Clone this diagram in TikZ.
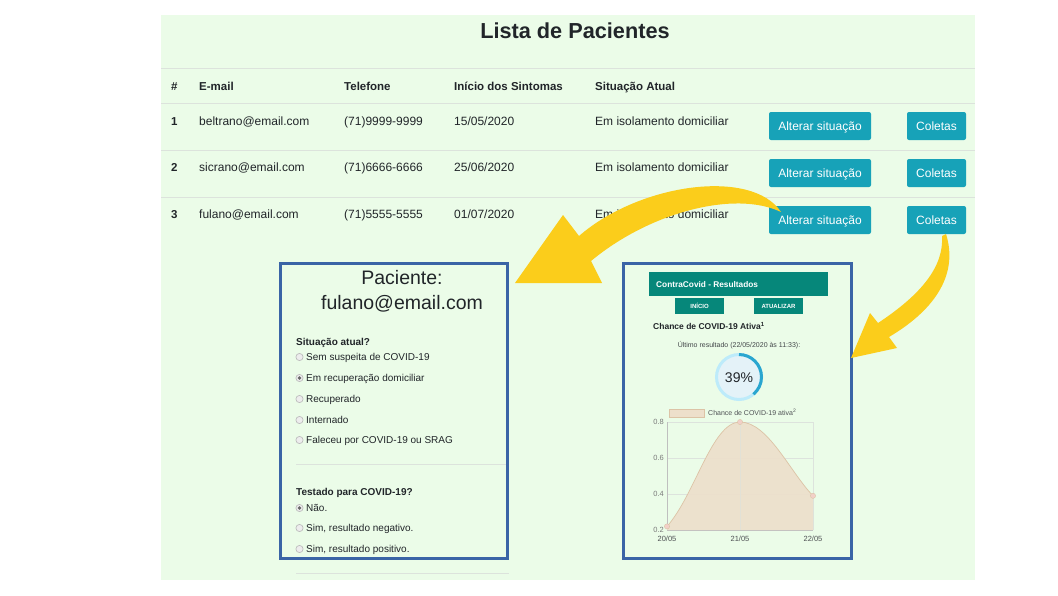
\documentclass[tikz,border=0pt]{standalone}
\usepackage{fontspec}
\setmainfont{Liberation Sans}
\definecolor{bggreen}{HTML}{EBFCE8}
\definecolor{ink}{HTML}{212529}
\definecolor{rowline}{HTML}{DCE3DC}
\definecolor{btnteal}{HTML}{17A2B8}
\definecolor{panelblue}{HTML}{3A64A6}
\definecolor{arrowyel}{HTML}{FBCD1B}
\definecolor{barteal}{HTML}{06877A}
\definecolor{ringlight}{HTML}{BDEBFA}
\definecolor{ringdark}{HTML}{2AA6CF}
\definecolor{ringin}{HTML}{E4F2F8}
\definecolor{areafill}{HTML}{EDDFCB}
\definecolor{areadraw}{HTML}{DCC3A6}
\definecolor{gridgrey}{HTML}{DDE3DD}
\definecolor{radiogrey}{HTML}{BDBDBD}
\definecolor{axisgrey}{HTML}{7A7A7A}
\definecolor{dotpink}{HTML}{F2D0C8}
\tikzset{
  capc/.style={text height=#1, text depth=0pt},
  txt/.style={anchor=west, inner sep=0pt, text=ink, capc=8.6pt, font=\fontsize{12}{14}\selectfont},
  hdr/.style={anchor=west, inner sep=0pt, text=ink, capc=8.3pt, font=\bfseries\fontsize{11.5}{14}\selectfont},
  btn/.style={fill=btnteal, text=white, rounded corners=2pt, minimum height=28pt, inner sep=0pt, capc=8.6pt, font=\fontsize{12}{14}\selectfont},
  rowrule/.style={draw=rowline, line width=1pt},
  panel/.style={draw=panelblue, line width=3pt},
  ptxt/.style={anchor=west, inner sep=0pt, text=ink, capc=7.2pt, font=\fontsize{10}{12}\selectfont},
  pbold/.style={anchor=west, inner sep=0pt, text=ink, capc=7.2pt, font=\bfseries\fontsize{10}{12}\selectfont},
  radio/.style={draw=radiogrey, fill=white!93!black, line width=0.7pt},
  yel/.style={fill=arrowyel, draw=none},
  tealbtn/.style={fill=barteal, text=white, inner sep=0pt, capc=4.3pt, font=\bfseries\fontsize{6}{7}\selectfont},
  axlab/.style={inner sep=0pt, text=axisgrey, capc=5.4pt, font=\fontsize{7.5}{9}\selectfont},
  grid line/.style={draw=gridgrey, line width=0.6pt}
}
\begin{document}
\begin{tikzpicture}[x=1pt,y=-1pt]
\useasboundingbox (0,0) rectangle (1058,595);
\fill[white] (0,0) rectangle (1058,595);
\fill[bggreen] (161,15) rectangle (975,580);

% title
\node[inner sep=0pt, text=ink, capc=15.5pt, font=\bfseries\fontsize{21.7}{25}\selectfont] (title) at (575,31) {Lista de Pacientes};

% table rules
\draw[rowrule] (161,68) -- (975,68);
\draw[rowrule] (161,103) -- (975,103);
\draw[rowrule] (161,150) -- (975,150);
\draw[rowrule] (161,197) -- (975,197);

% header
\node[hdr] (h1) at (171,86) {\#};
\node[hdr] (h2) at (199,86) {E-mail};
\node[hdr] (h3) at (344,86) {Telefone};
\node[hdr] (h4) at (454,86) {Início dos Sintomas};
\node[hdr] (h5) at (595,86) {Situação Atual};

% row 1
\node[hdr] (n1) at (171,121) {1};
\node[txt] (e1) at (199,121) {beltrano@email.com};
\node[txt] (p1) at (344,121) {(71)9999-9999};
\node[txt] (d1) at (454,121) {15/05/2020};
\node[txt] (s1) at (595,121) {Em isolamento domiciliar};
\node[btn, minimum width=102pt] (a1) at (820,126) {Alterar situação};
\node[btn, minimum width=59pt] (c1) at (936.5,126) {Coletas};

% row 2
\node[hdr] (n2) at (171,167) {2};
\node[txt] (e2) at (199,167) {sicrano@email.com};
\node[txt] (p2) at (344,167) {(71)6666-6666};
\node[txt] (d2) at (454,167) {25/06/2020};
\node[txt] (s2) at (595,167) {Em isolamento domiciliar};
\node[btn, minimum width=102pt] (a2) at (820,173) {Alterar situação};
\node[btn, minimum width=59pt] (c2) at (936.5,173) {Coletas};

% row 3
\node[hdr] (n3) at (171,214) {3};
\node[txt] (e3) at (199,214) {fulano@email.com};
\node[txt] (p3) at (344,214) {(71)5555-5555};
\node[txt] (d3) at (454,214) {01/07/2020};
\node[txt] (s3) at (595,214) {Em isolamento domiciliar};
\node[btn, minimum width=102pt] (a3) at (820,220) {Alterar situação};
\node[btn, minimum width=59pt] (c3) at (936.5,220) {Coletas};

% ---------------- left panel ----------------
\node[inner sep=0pt, text=ink, capc=14pt, font=\fontsize{19.5}{23}\selectfont] (pac) at (402,277) {Paciente:};
\node[inner sep=0pt, text=ink, capc=14pt, font=\fontsize{19.5}{23}\selectfont] (pmail) at (402,302) {fulano@email.com};
\node[pbold] (sit) at (296,342) {Situação atual?};
\draw[radio] (299.5,357) circle (3.6);
\node[ptxt] (o1) at (306,357) {Sem suspeita de COVID-19};
\draw[radio] (299.5,378) circle (3.6);
\fill[black!60] (299.5,378) circle (1.8);
\node[ptxt] (o2) at (306,378) {Em recuperação domiciliar};
\draw[radio] (299.5,399) circle (3.6);
\node[ptxt] (o3) at (306,399) {Recuperado};
\draw[radio] (299.5,420) circle (3.6);
\node[ptxt] (o4) at (306,420) {Internado};
\draw[radio] (299.5,440) circle (3.6);
\node[ptxt] (o5) at (306,440) {Faleceu por COVID-19 ou SRAG};
\draw[rowrule] (296,464) -- (509,464);
\node[pbold] (tes) at (296,492) {Testado para COVID-19?};
\draw[radio] (299.5,508) circle (3.6);
\fill[black!60] (299.5,508) circle (1.8);
\node[ptxt] (t1) at (306,508) {Não.};
\draw[radio] (299.5,528) circle (3.6);
\node[ptxt] (t2) at (306,528) {Sim, resultado negativo.};
\draw[radio] (299.5,549) circle (3.6);
\node[ptxt] (t3) at (306,549) {Sim, resultado positivo.};
\draw[rowrule] (296,573) -- (509,573);
\draw[panel] (280,263) rectangle (507,558);

% ---------------- right panel ----------------
\node[fill=barteal, minimum width=179pt, minimum height=24pt, inner sep=0pt] (bar) at (738.5,284) {};
\node[anchor=west, inner sep=0pt, text=white, capc=6pt, font=\bfseries\fontsize{8.3}{10}\selectfont] (bartxt) at (656,284) {ContraCovid - Resultados};
\node[tealbtn, minimum width=49pt, minimum height=16pt] (inicio) at (699.5,306) {INÍCIO};
\node[tealbtn, minimum width=49pt, minimum height=16pt] (atual) at (778.5,306) {ATUALIZAR};
\node[anchor=west, inner sep=0pt, text=ink, capc=6.1pt, font=\bfseries\fontsize{8.5}{10}\selectfont] (chance) at (653,326) {Chance de COVID-19 Ativa\textsuperscript{1}};
\node[inner sep=0pt, text=ink!85, capc=5pt, font=\fontsize{7}{8}\selectfont] (ultimo) at (739,345) {Último resultado (22/05/2020 às 11:33):};
\draw[line width=3pt, ringlight, fill=ringin] (739,377) circle (22.5);
\draw[line width=3pt, ringdark] (739,377) ++(-90:22.5) arc[start angle=-90, end angle=50, radius=22.5];
\node[inner sep=0pt, text=ink, capc=10pt, font=\fontsize{14}{16}\selectfont] (pct) at (739,377) {39\%};

% chart legend
\node[fill=areafill, draw=areadraw, line width=0.5pt, minimum width=35pt, minimum height=8pt, inner sep=0pt] (legbox) at (686.5,413) {};
\node[anchor=west, inner sep=0pt, text=ink!80, capc=5pt, font=\fontsize{7}{8}\selectfont] (legtxt) at (708,413) {Chance de COVID-19 ativa\textsuperscript{2}};

% grid
\draw[grid line] (667,422) -- (813,422);
\draw[grid line] (667,458) -- (813,458);
\draw[grid line] (667,494) -- (813,494);
\draw[grid line] (740,422) -- (740,530);
\draw[grid line] (813,422) -- (813,530);
\draw[draw=black!25, line width=0.6pt] (667,422) -- (667,530) -- (813,530);
% area
\fill[areafill, opacity=0.9] (667,526.4) .. controls (695,495) and (712,422) .. (740,422) .. controls (768,422) and (790,472) .. (813,495.8) -- (813,530) -- (667,530) -- cycle;
\draw[areadraw, line width=0.7pt] (667,526.4) .. controls (695,495) and (712,422) .. (740,422) .. controls (768,422) and (790,472) .. (813,495.8);
\draw[grid line, opacity=0.6] (740,422) -- (740,530);
\filldraw[fill=dotpink, draw=areadraw, line width=0.4pt] (667,526.4) circle (2.6);
\filldraw[fill=dotpink, draw=areadraw, line width=0.4pt] (740,422) circle (2.6);
\filldraw[fill=dotpink, draw=areadraw, line width=0.4pt] (813,495.8) circle (2.6);
% axis labels
\node[axlab, anchor=east] (y8) at (664,422) {0.8};
\node[axlab, anchor=east] (y6) at (664,458) {0.6};
\node[axlab, anchor=east] (y4) at (664,494) {0.4};
\node[axlab, anchor=east] (y2) at (664,530) {0.2};
\node[axlab, text=ink!80] (x1) at (667,539) {20/05};
\node[axlab, text=ink!80] (x2) at (740,539) {21/05};
\node[axlab, text=ink!80] (x3) at (813,539) {22/05};
\draw[panel] (623,263) rectangle (851,558);

% ---------------- arrows ----------------
\coordinate (tail1) at (781,212);
\coordinate (tip1) at (515,283);
\fill[yel] (tail1) .. controls (752,168) and (640,183) .. (579,236)
   -- (563,215) -- (tip1) -- (602,283) -- (591,261)
   .. controls (650,212) and (735,190) .. (tail1) -- cycle;
\coordinate (tail2) at (946,234);
\coordinate (tip2) at (851,358);
\fill[yel] (tail2) .. controls (958,272) and (938,308) .. (889,337)
   -- (897,348) -- (tip2) -- (870,313) -- (878,323)
   .. controls (922,294) and (944,266) .. (942,236) -- cycle;
\end{tikzpicture}
\end{document}
